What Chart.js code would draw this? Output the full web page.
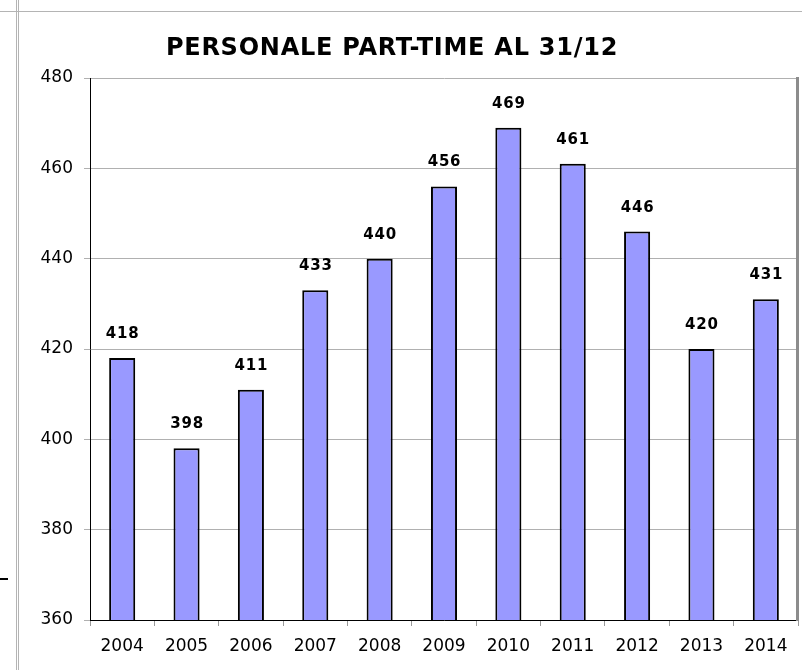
<!DOCTYPE html>
<html>
<head>
<meta charset="utf-8">
<script src="https://cdn.jsdelivr.net/npm/chart.js@4/dist/chart.umd.min.js"></script>
<style>
html,body{margin:0;padding:0;background:#fff;}
canvas{display:block;}
</style>
</head>
<body>
<canvas id="c" width="802" height="670"></canvas>
<script>
const titleText = 'PERSONALE PART-TIME AL 31/12';
const categories = ['2004','2005','2006','2007','2008','2009','2010','2011','2012','2013','2014'];
const values = [418, 398, 411, 433, 440, 456, 469, 461, 446, 420, 431];
const yTickValues = [360, 380, 400, 420, 440, 460, 480];

const FONT = 'DejaVu Sans';

const decor = {
  id: 'decor',
  beforeDraw(chart) {
    const ctx = chart.ctx;
    ctx.save();
    ctx.fillStyle = '#fff';
    ctx.fillRect(0, 0, chart.width, chart.height);
    ctx.strokeStyle = '#b4b4b4';
    ctx.lineWidth = 1;
    ctx.beginPath();
    ctx.moveTo(0, 11.5); ctx.lineTo(chart.width, 11.5);
    ctx.moveTo(16.5, 0); ctx.lineTo(16.5, chart.height);
    ctx.moveTo(18.5, 0); ctx.lineTo(18.5, chart.height);
    ctx.stroke();
    ctx.strokeStyle = '#000';
    ctx.lineWidth = 2;
    ctx.beginPath();
    ctx.moveTo(0, 579); ctx.lineTo(8, 579);
    ctx.stroke();
    // title
    ctx.fillStyle = '#000';
    ctx.font = 'bold 24px "' + FONT + '"';
    if ('letterSpacing' in ctx) ctx.letterSpacing = '0.75px';
    ctx.textAlign = 'center';
    ctx.textBaseline = 'middle';
    ctx.fillText(titleText, 392, 49);
    ctx.restore();
  },
  afterDatasetsDraw(chart) {
    const ctx = chart.ctx;
    const area = chart.chartArea;
    ctx.save();
    // plot frame right side
    ctx.strokeStyle = '#8c8c8c';
    ctx.lineWidth = 3;
    ctx.beginPath();
    ctx.moveTo(area.right - 0.5, area.top - 1);
    ctx.lineTo(area.right - 0.5, area.bottom + 1);
    ctx.stroke();
    // data labels
    const meta = chart.getDatasetMeta(0);
    ctx.fillStyle = '#000';
    ctx.font = 'bold 15px "' + FONT + '"';
    if ('letterSpacing' in ctx) ctx.letterSpacing = '0.8px';
    ctx.textAlign = 'center';
    ctx.textBaseline = 'alphabetic';
    meta.data.forEach((bar, i) => {
      ctx.fillText(String(values[i]), bar.x + 0.5, bar.y - 20);
    });
    ctx.restore();
  }
};

new Chart(document.getElementById('c'), {
  type: 'bar',
  data: {
    labels: categories,
    datasets: [{
      data: values,
      backgroundColor: '#9999ff',
      borderColor: '#000',
      borderWidth: 2,
      borderSkipped: false,
      categoryPercentage: 1,
      barPercentage: 0.405
    }]
  },
  options: {
    responsive: false,
    animation: false,
    devicePixelRatio: 1,
    layout: { padding: { left: 0, right: 4, top: 78, bottom: 0 } },
    plugins: {
      legend: { display: false },
      tooltip: { enabled: false },
      title: { display: false }
    },
    scales: {
      x: {
        grid: { offset: true, drawOnChartArea: false, color: '#999', tickLength: 6 },
        border: { color: '#000', width: 1 },
        ticks: { font: { family: FONT, size: 17 }, color: '#000', padding: 10, maxRotation: 0, autoSkip: false },
        afterFit(s) { s.height = 50; }
      },
      y: {
        min: yTickValues[0],
        max: yTickValues[yTickValues.length - 1],
        afterBuildTicks(s) { s.ticks = yTickValues.map(v => ({ value: v })); },
        grid: { color: '#b0b0b0', tickLength: 6 },
        border: { color: '#000', width: 1 },
        ticks: { font: { family: FONT, size: 17 }, color: '#000', padding: 11 },
        afterFit(s) { s.width = 90; }
      }
    }
  },
  plugins: [decor]
});
</script>
</body>
</html>
